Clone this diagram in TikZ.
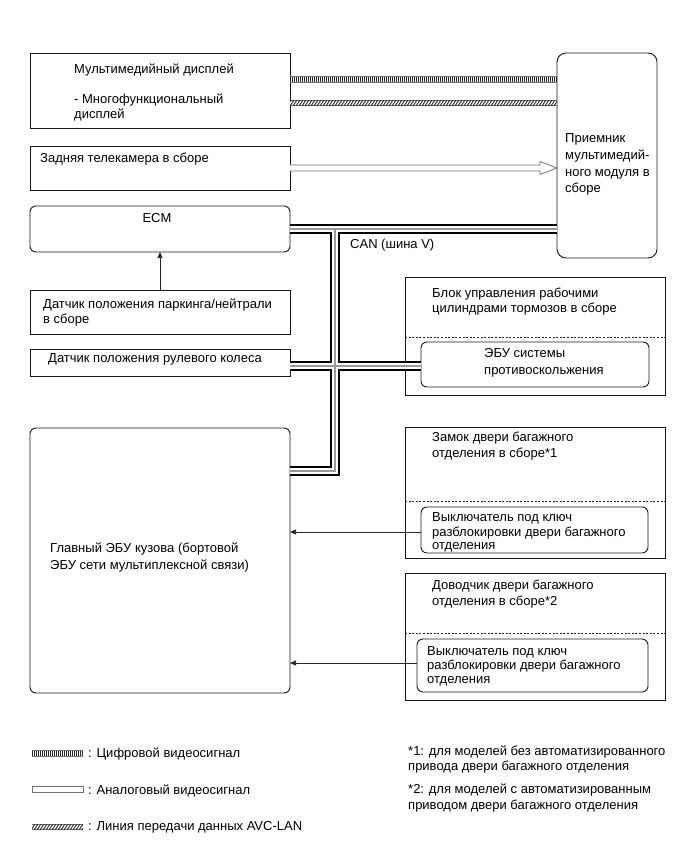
\documentclass[tikz,border=0pt]{standalone}
\usepackage{fontspec}
\setmainfont{Liberation Sans}
\usetikzlibrary{calc,arrows.meta}
\newcommand\mybox[6]{\node[#6, minimum width={#4-#2}, minimum height={#5-#3}] (#1) at ({(#2+#4)/2},{(#3+#5)/2}) {};}
\newcommand\tx[4]{\node[txt] (#1) at (#2,#3) {#4};}
\begin{document}
\begin{tikzpicture}[x=1pt,y=-1pt,
  box/.style={draw=black!90, line width=0.9pt, inner sep=0pt, outer sep=0pt},
  rbox/.style={box, rounded corners=6pt},
  rbbox/.style={box, rounded corners=9pt},
  dline/.style={black!85, line width=0.7pt, dash pattern=on 2pt off 1.6pt},
  txt/.style={anchor=base west, inner sep=0pt, font=\fontsize{13}{15}\selectfont},
  arr/.style={black!85, line width=0.7pt, -{Triangle[length=6pt,width=5pt]}},
  grayline/.style={black!55, line width=0.8pt}]
\useasboundingbox (0,0) rectangle (689,853);
% boxes
\mybox{disp}{30}{53}{290}{128}{box}
\mybox{rcv}{557}{53}{657}{258}{rbbox}
\mybox{cam}{30}{146}{290}{190}{box}
\mybox{ecm}{30}{206}{290}{252}{rbox}
\mybox{park}{30}{290}{290}{334}{box}
\mybox{steer}{30}{349}{290}{376}{box}
\mybox{brk}{405}{277}{665}{395}{box}
\mybox{abs}{421}{342}{649}{387}{rbox}
\mybox{main}{30}{428}{290}{693}{rbox}
\mybox{lock}{405}{427}{665}{558}{box}
\mybox{swa}{421}{507}{648}{553}{rbox}
\mybox{clos}{405}{573}{665}{700}{box}
\mybox{swb}{417}{639}{648}{692}{rbox}
% dashed separators
\draw[dline] (brk.west |- 0,337) -- (brk.east |- 0,337);
\draw[dline] (lock.west |- 0,501) -- (lock.east |- 0,501);
\draw[dline] (clos.west |- 0,633) -- (clos.east |- 0,633);
% texts
\tx{t1}{74}{74}{Мультимедийный дисплей}
\tx{t2}{74}{104}{- Многофункциональный}
\tx{t3}{74}{119}{дисплей}
\tx{t4}{565}{143}{Приемник}
\tx{t5}{565}{159.5}{мультимедий-}
\tx{t6}{565}{176}{ного модуля в}
\tx{t7}{565}{192.5}{сборе}
\tx{t8}{40}{163}{Задняя телекамера в сборе}
\node[anchor=base, inner sep=0pt, font=\fontsize{13}{15}\selectfont] (t9) at (157,222) {ECM};
\tx{t10}{43}{308}{Датчик положения паркинга/нейтрали}
\tx{t11}{43}{323}{в сборе}
\tx{t12}{48}{362}{Датчик положения рулевого колеса}
\tx{t13}{432}{297}{Блок управления рабочими}
\tx{t14}{432}{312}{цилиндрами тормозов в сборе}
\tx{t15}{484}{357}{ЭБУ системы}
\tx{t16}{484}{374}{противоскольжения}
\tx{t17}{50}{552}{Главный ЭБУ кузова (бортовой}
\tx{t18}{50}{569}{ЭБУ сети мультиплексной связи)}
\tx{t19}{432}{441}{Замок двери багажного}
\tx{t20}{432}{457}{отделения в сборе*1}
\tx{t21}{432}{521}{Выключатель под ключ}
\tx{t22}{432}{536}{разблокировки двери багажного}
\tx{t23}{432}{549}{отделения}
\tx{t24}{432}{589}{Доводчик двери багажного}
\tx{t25}{432}{605}{отделения в сборе*2}
\tx{t26}{427}{655}{Выключатель под ключ}
\tx{t27}{427}{669}{разблокировки двери багажного}
\tx{t28}{427}{683}{отделения}
\tx{t29}{350}{248}{CAN (шина V)}
% digital video line
\draw[line width=7pt, black!55] (disp.east |- 0,80) -- (rcv.west |- 0,80);
\draw[line width=5pt, white] (disp.east |- 0,80) -- (rcv.west |- 0,80);
\draw[line width=5pt, black!85, dash pattern=on 0.8pt off 1.2pt] (disp.east |- 0,80) -- (rcv.west |- 0,80);
% AVC-LAN line
\draw[line width=6.5pt, black!55] (disp.east |- 0,103) -- (rcv.west |- 0,103);
\draw[line width=4.5pt, white] (disp.east |- 0,103) -- (rcv.west |- 0,103);
\begin{scope}
\clip (disp.east |- 0,100.8) rectangle (rcv.west |- 0,105.2);
\foreach \x in {284,287,...,560} \draw[black!85, line width=0.9pt] (\x,106) -- (\x+4,100);
\end{scope}
% analog video arrow
\draw[grayline, fill=white] ($(cam.east)+(0,-3)$) -- ($(rcv.west |- cam.east)+(-17,-3)$) -- ++(0,-3.5) -- (rcv.west |- cam.east) -- ($(rcv.west |- cam.east)+(-17,6.5)$) -- ++(0,-3.5) -- ($(cam.east)+(0,3)$);
% CAN bus
\coordinate (j1) at (335,229);
\coordinate (j2) at (335,471);
\draw[line width=10pt, black] (ecm.east |- j1) -- (rcv.west |- j1);
\draw[line width=10pt, black] (j1) -- (j2) -- (main.east |- j2);
\draw[line width=10pt, black] (steer.east |- 0,366) -- (abs.west |- 0,366);
\draw[line width=6pt, white] (ecm.east |- j1) -- (rcv.west |- j1);
\draw[line width=6pt, white] (j1) -- (j2) -- (main.east |- j2);
\draw[line width=6pt, white] (steer.east |- 0,366) -- (abs.west |- 0,366);
\draw[line width=1.8pt, black!40] (ecm.east |- j1) -- (rcv.west |- j1);
\draw[line width=1.8pt, black!40] (j1) -- (j2) -- (main.east |- j2);
\draw[line width=1.8pt, black!40] (steer.east |- 0,366) -- (abs.west |- 0,366);
% arrows
\draw[arr] (park.north) -- (ecm.south);
\draw[arr] (swa.west |- 0,532) -- (main.east |- 0,532);
\draw[arr] (swb.west |- 0,663) -- (main.east |- 0,663);
% legend
\coordinate (la1) at (32,753); \coordinate (la2) at (83,753);
\draw[line width=7pt, black!55] (la1) -- (la2);
\draw[line width=5pt, white] (la1) -- (la2);
\draw[line width=5pt, black!85, dash pattern=on 0.8pt off 1.2pt] (la1) -- (la2);
\tx{l1}{88}{757}{: Цифровой видеосигнал}
\draw[grayline, fill=white] (32,786) rectangle (83,792);
\tx{l2}{88}{794}{: Аналоговый видеосигнал}
\coordinate (lc1) at (32,827); \coordinate (lc2) at (83,827);
\draw[line width=6.5pt, black!55] (lc1) -- (lc2);
\draw[line width=4.5pt, white] (lc1) -- (lc2);
\begin{scope}
\clip (32,824.8) rectangle (83,829.2);
\foreach \x in {28,31,...,84} \draw[black!85, line width=0.9pt] (\x,830) -- (\x+4,824);
\end{scope}
\tx{l3}{88}{830}{: Линия передачи данных AVC-LAN}
\tx{f1}{408}{755}{*1: для моделей без автоматизированного}
\tx{f2}{408}{770}{привода двери багажного отделения}
\tx{f3}{408}{793}{*2: для моделей с автоматизированным}
\tx{f4}{408}{809}{приводом двери багажного отделения}
\end{tikzpicture}
\end{document}
